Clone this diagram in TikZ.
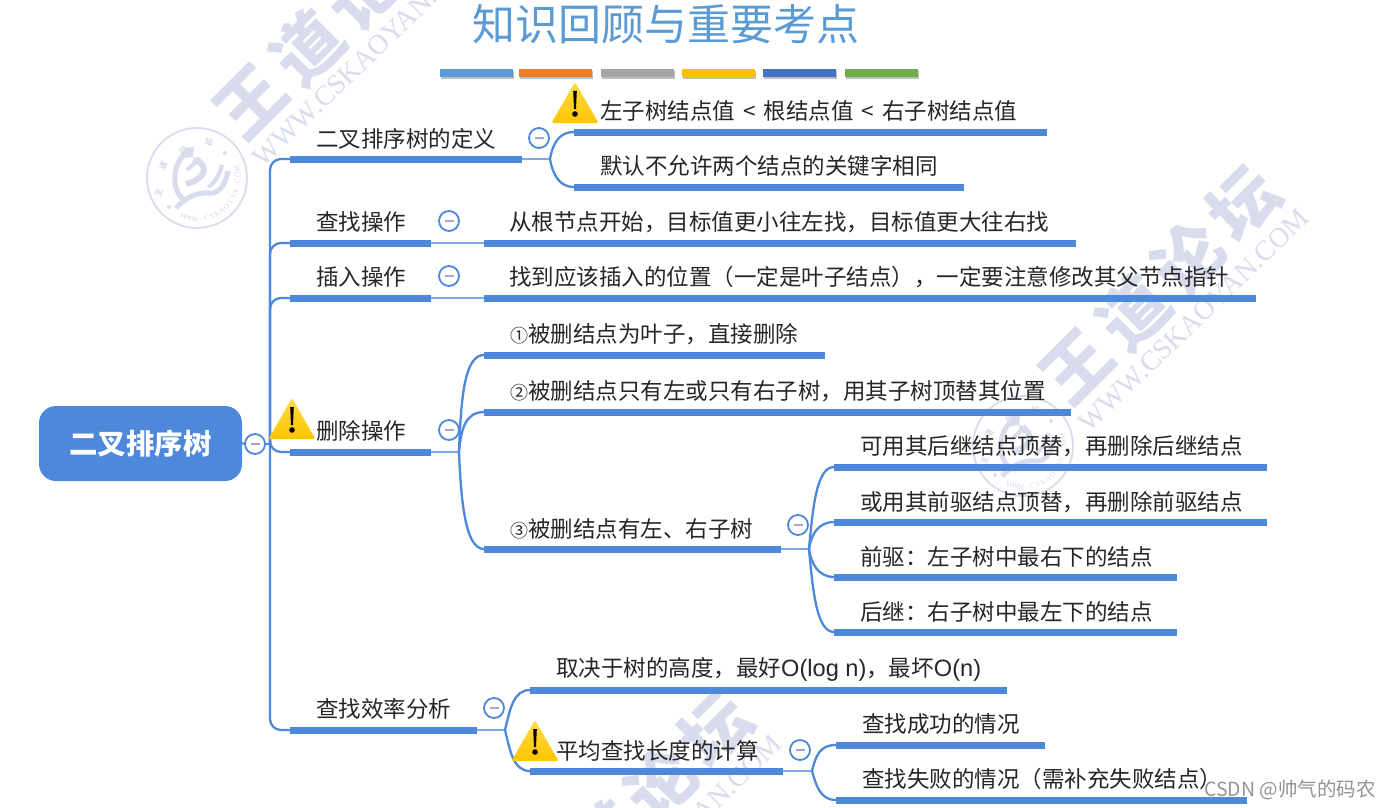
\documentclass[tikz,border=0pt]{standalone}
\usepackage{fontspec}
\setmainfont{Noto Sans CJK SC}
\newfontfamily\latinserif{Liberation Serif}
\newfontfamily\latinsans{Liberation Sans}
\usetikzlibrary{calc}
\definecolor{mblue}{HTML}{4E88DB}
\definecolor{thinblue}{HTML}{7FA9E6}
\definecolor{wmark}{HTML}{D9DCEC}
\definecolor{minusc}{HTML}{A3A6D8}
\definecolor{titlec}{HTML}{5B9BD5}
\definecolor{warnt}{HTML}{FFDD44}
\definecolor{warnb}{HTML}{FFC400}
\newcommand\cnum[1]{{\fontsize{18}{18}\selectfont #1}}
\newcommand\lsp{\hspace{8pt}}
\newcommand\lsn[1]{{\latinsans\fontsize{23.6}{24}\selectfont #1}}
\tikzset{
  x=1pt,y=-1pt,
  bar/.style={fill=mblue,draw=none,rectangle,inner sep=0pt,minimum height=7pt,anchor=west},
  lab/.style={anchor=west,inner sep=0pt,yshift=-.8pt,font=\fontsize{22.5}{24}\selectfont,text=black!85},
  conn/.style={draw=mblue,line width=2.3pt},
  link/.style={draw=thinblue,line width=2pt},
  minusn/.style={circle,draw=mblue,line width=1.8pt,fill=white,minimum size=20pt,inner sep=0pt,
    path picture={\draw[minusc,line width=1.6pt] ($(path picture bounding box.center)+(-4.5,0)$) -- ++(9,0);}},
  tbar/.style={rectangle,inner sep=0pt,minimum height=8pt,minimum width=73pt,draw=none,anchor=west},
  wmtext/.style={text=wmark,inner sep=0pt,rotate=45,font=\fontsize{68}{70}\selectfont\bfseries},
  wmurl/.style={text=wmark,inner sep=0pt,rotate=44,font=\latinserif\fontsize{28}{30}\selectfont},
  sealtxt/.style={text=wmark,inner sep=0pt,font=\fontsize{8}{8}\selectfont\bfseries}
}
\newcommand\wmk[1]{%
  \begin{scope}[shift={#1}]
    \node[wmtext] (wa) at (1077,367) {王};
    \node[wmtext] (wb) at (1133,312) {道};
    \node[wmtext] (wc) at (1188,258) {论};
    \node[wmtext] (wd) at (1243,203) {坛};
    \node[wmurl] (we) at (1194,320) {WWW.CSKAOYAN.COM};
  \end{scope}}
\newcommand\sealmk[1]{%
  \begin{scope}[shift={#1}]
    \draw[wmark,line width=1.8pt] (0,0) circle (50);
    \draw[wmark,line width=5pt] (-11,-25) .. controls (-26,-13) and (-26,15) .. (-11,23);
    \fill[wmark] (-12,-30) -- (-3,-31) -- (-4,-21) -- (-13,-20) -- cycle;
    \draw[wmark,line width=6pt] (-4,-18) .. controls (8,-16) and (10,-6) .. (2,0) .. controls (-3,4) and (-8,5) .. (-11,6);
    \draw[wmark,line width=4pt] (-10,-8) -- (3,-20);
    \draw[wmark,line width=4pt] (11,9) .. controls (18,5) and (23,-4) .. (25,-13);
    \draw[wmark,line width=5pt] (-21,30) .. controls (-12,20) and (0,14) .. (12,15) .. controls (20,16) and (28,10) .. (31,-7);
    \fill[wmark] (-28,29) circle (2);
    \fill[wmark] (28,-25) circle (2);
    \node[sealtxt,rotate=70] at (-38,15) {王};
    \node[sealtxt,rotate=60] at (-34,-12) {道};
    \node[sealtxt,rotate=20] at (-14,-28) {论};
    \node[sealtxt,rotate=-10] at (12,-36) {坛};
    \foreach \c [count=\i from 0] in {W,W,W,.,C,S,K,A,O,Y,A,N,.,C,O,M}{
      \pgfmathsetmacro\aa{109-8.1*\i}
      \node[text=wmark,inner sep=0pt,rotate=90-\aa,font=\latinserif\fontsize{7.5}{8}\selectfont] at ({41*cos(\aa)},{41*sin(\aa)}) {\c};
    }
  \end{scope}}
\newcommand\warn[3]{% centre x, top y, name
  \coordinate (#3) at (#1,#2);
  \shade[top color=warnt,bottom color=warnb,rounded corners=1.5pt]
    ($(#3)+(0,0)$) -- ($(#3)+(23.5,41)$) -- ($(#3)+(-23.5,41)$) -- cycle;
  \fill[black] ($(#3)+(-1.8,9)$) -- ($(#3)+(1.8,9)$) -- ($(#3)+(1,27)$) -- ($(#3)+(-1,27)$) -- cycle;
  \fill[black] ($(#3)+(0,32)$) circle (2.8);}
\begin{document}
\begin{tikzpicture}
\useasboundingbox (0,0) rectangle (1390,808);
\fill[white] (0,0) rectangle (1390,808);
% watermarks
\wmk{(-826,-265)}
\wmk{(0,0)}
\wmk{(-527,526)}
\sealmk{(197,178)}
\sealmk{(1023,446)}
% title
\node[inner sep=0pt,text=titlec,font=\fontsize{43}{46}\selectfont] (title) at (665.5,24) {知识回顾与重要考点};
\foreach \n/\x/\c in {t1/440/5B9BD5,t2/519/ED7D31,t3/601/A5A5A5,t4/682/FFC000,t5/763/4472C4,t6/845/70AD47}{
  \fill[black!25] (\x+1,71) rectangle (\x+74,79);
  \definecolor{tc}{HTML}{\c}
  \node[tbar,fill=tc] (\n) at (\x,73) {};
}
% root
\node[rectangle,rounded corners=17pt,fill=mblue,minimum width=203pt,minimum height=75pt,inner sep=0pt,
  text=white,font=\fontsize{28.4}{30}\selectfont\bfseries] (root) at (140.5,443.5) {二叉排序树};
% bars
\node[bar,minimum width=232pt] (a1) at (290,159) {};
\node[bar,minimum width=141pt] (a2) at (290,243) {};
\node[bar,minimum width=141pt] (a3) at (290,298) {};
\node[bar,minimum width=141pt] (a4) at (290,452) {};
\node[bar,minimum width=187pt] (a5) at (290,730) {};
\node[bar,minimum width=473pt] (b1) at (574,132) {};
\node[bar,minimum width=390pt] (b2) at (574,187) {};
\node[bar,minimum width=592pt] (c1) at (484,243) {};
\node[bar,minimum width=772pt] (d1) at (484,298) {};
\node[bar,minimum width=341pt] (e1) at (484,355) {};
\node[bar,minimum width=587pt] (e2) at (484,412) {};
\node[bar,minimum width=297pt] (e3) at (484,549) {};
\node[bar,minimum width=433pt] (f1) at (834,467) {};
\node[bar,minimum width=433pt] (f2) at (834,522) {};
\node[bar,minimum width=343pt] (f3) at (834,577) {};
\node[bar,minimum width=343pt] (f4) at (834,632) {};
\node[bar,minimum width=477pt] (g1) at (530,690) {};
\node[bar,minimum width=253pt] (g2) at (530,771) {};
\node[bar,minimum width=209pt] (h1) at (836,745) {};
\node[bar,minimum width=411pt] (h2) at (836,800) {};
% junctions
\coordinate (j0) at (270,444);
\coordinate (j1) at (550,159);
\coordinate (j4) at (459,452);
\coordinate (j5) at (505,730);
\coordinate (j6) at (809,549);
\coordinate (j7) at (812,771);
% connectors
\draw[conn] (root.east) -- (j0);
\foreach \t in {a1,a2,a3,a4,a5}{\draw[conn,rounded corners=11pt] (j0) |- (\t.west);}
\draw[link] (a1.east) -- (j1);
\draw[link] (a2.east) -- (c1.west);
\draw[link] (a3.east) -- (d1.west);
\draw[link] (a4.east) -- (j4);
\draw[link] (a5.east) -- (j5);
\draw[link] (e3.east) -- (j6);
\draw[link] (g2.east) -- (j7);
\draw[conn] (j1) .. controls (553,142) and (560,132) .. (b1.west);
\draw[conn] (j1) .. controls (553,176) and (560,187) .. (b2.west);
\draw[conn] (j4) .. controls (461,395) and (465,355) .. (e1.west);
\draw[conn] (j4) .. controls (461,430) and (465,412) .. (e2.west);
\draw[conn] (j4) .. controls (461,500) and (465,549) .. (e3.west);
\draw[conn] (j5) .. controls (510,710) and (513,690) .. (g1.west);
\draw[conn] (j5) .. controls (510,750) and (513,771) .. (g2.west);
\draw[conn] (j6) .. controls (813,505) and (817,467) .. (f1.west);
\draw[conn] (j6) .. controls (811,535) and (818,522) .. (f2.west);
\draw[conn] (j6) .. controls (811,563) and (818,577) .. (f3.west);
\draw[conn] (j6) .. controls (813,593) and (817,632) .. (f4.west);
\draw[conn] (j7) .. controls (816,755) and (820,745) .. (h1.west);
\draw[conn] (j7) .. controls (816,785) and (820,800) .. (h2.west);
% minus buttons
\node[minusn] (m0) at (255,444) {};
\node[minusn] (m1) at (539,138) {};
\node[minusn] (m2) at (449,221) {};
\node[minusn] (m3) at (449,276) {};
\node[minusn] (m4) at (449,430) {};
\node[minusn] (m5) at (798,525) {};
\node[minusn] (m6) at (494,708) {};
\node[minusn] (m7) at (800,750) {};
% warnings
\warn{575}{82}{w1}
\warn{292}{398}{w2}
\warn{535}{720}{w3}
% labels
\node[lab] (la1) at (316,138) {二叉排序树的定义};
\node[lab] (la2) at (316,221) {查找操作};
\node[lab] (la3) at (316,276) {插入操作};
\node[lab] (la4) at (316,430) {删除操作};
\node[lab] (la5) at (316,708) {查找效率分析};
\node[lab] (lb1) at (600,110) {左子树结点值\lsp{}<\lsp{}根结点值\lsp{}<\lsp{}右子树结点值};
\node[lab] (lb2) at (600,165) {默认不允许两个结点的关键字相同};
\node[lab] (lc1) at (509,221) {从根节点开始，目标值更小往左找，目标值更大往右找};
\node[lab] (ld1) at (509,276) {找到应该插入的位置（一定是叶子结点），一定要注意修改其父节点指针};
\node[lab] (le1) at (510,333) {\cnum{①}被删结点为叶子，直接删除};
\node[lab] (le2) at (510,390) {\cnum{②}被删结点只有左或只有右子树，用其子树顶替其位置};
\node[lab] (le3) at (510,528) {\cnum{③}被删结点有左、右子树};
\node[lab] (lf1) at (860,445) {可用其后继结点顶替，再删除后继结点};
\node[lab] (lf2) at (860,501) {或用其前驱结点顶替，再删除前驱结点};
\node[lab] (lf3) at (860,556) {前驱：左子树中最右下的结点};
\node[lab] (lf4) at (860,611) {后继：右子树中最左下的结点};
\node[lab] (lg1) at (556,669) {取决于树的高度，最好\lsn{O(log n)}，最坏\lsn{O(n)}};
\node[lab] (lg2) at (556,750) {平均查找长度的计算};
\node[lab] (lh1) at (862,723) {查找成功的情况};
\node[lab] (lh2) at (862,778) {查找失败的情况（需补充失败结点）};
\node[anchor=east,inner sep=0pt,text=black!42,font=\fontsize{19.5}{20}\selectfont] (csdn) at (1376,790) {CSDN @帅气的码农};
\end{tikzpicture}
\end{document}
